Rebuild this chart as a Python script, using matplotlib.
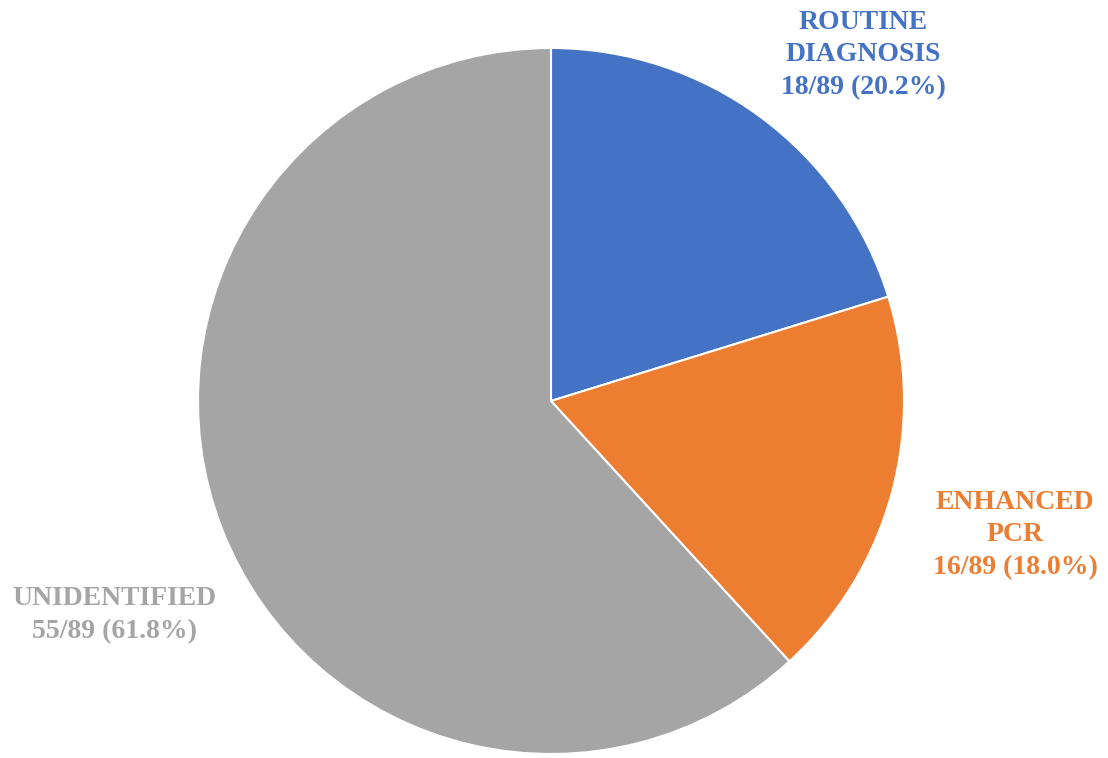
import matplotlib.pyplot as plt

labels = ["ROUTINE\nDIAGNOSIS", "ENHANCED\nPCR", "UNIDENTIFIED"]
counts = [18, 16, 55]
total = 89
colors = ["#4472C4", "#ED7D31", "#A5A5A5"]
label_pos = [(863, 55), (1015, 535), (114, 615)]  # pixel coords, text centre

W, H = 1108, 758
fig = plt.figure(figsize=(W / 100, H / 100), dpi=100)
ax = fig.add_axes([0, 0, 1, 1])

ax.pie(counts, colors=colors, startangle=90, counterclock=False,
       center=(551, H - 401), radius=353, frame=True,
       wedgeprops=dict(linewidth=1.5, edgecolor="white"))
ax.set_xlim(0, W)
ax.set_ylim(0, H)
ax.set_aspect("equal")
ax.axis("off")

for lab, n, c, (x, y) in zip(labels, counts, colors, label_pos):
    txt = f"{lab}\n{n}/{total} ({n / total * 100:.1f}%)"
    ax.text(x, H - y, txt, ha="center", va="center", color=c,
            fontsize=20, fontweight="bold", family="Liberation Serif",
            linespacing=1.4)

fig.savefig("out.png", dpi=100, facecolor="white")
